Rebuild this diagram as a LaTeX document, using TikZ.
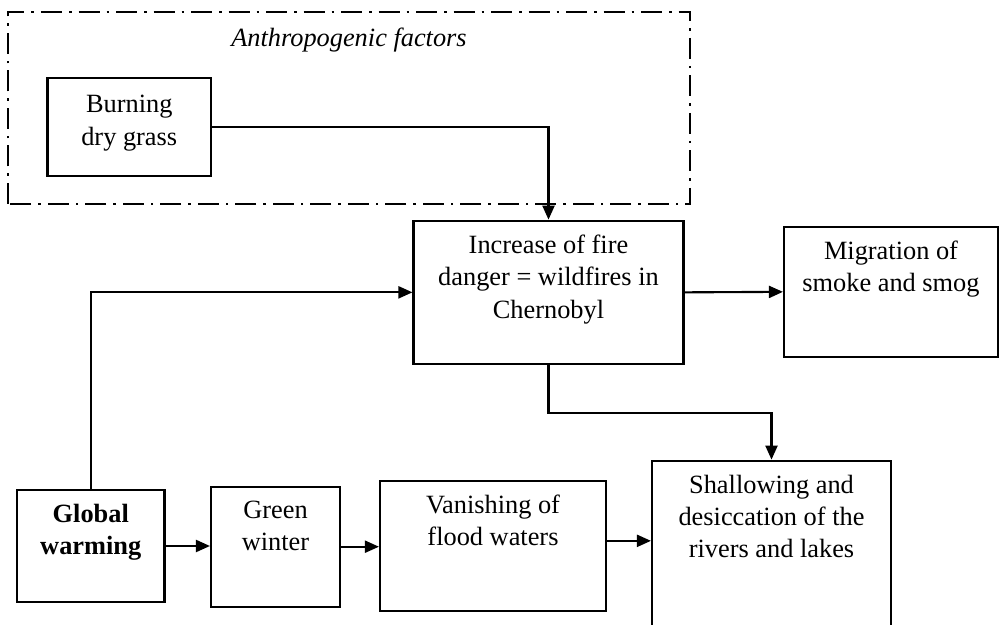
\documentclass[tikz,border=0pt]{standalone}
\usepackage{fontspec}
\setmainfont{Liberation Serif}
\usepackage{tikz}
\usetikzlibrary{arrows.meta,positioning,calc}

\begin{document}
\begin{tikzpicture}[
  box/.style={draw, line width=1.2pt, inner sep=0pt},
  txt/.style={align=center, inner sep=0pt, anchor=north,
              font=\fontsize{15}{18.4}\selectfont},
  arr/.style={-{Triangle[length=2.8mm, width=2.4mm]}, line width=1.2pt},
  frame/.style={line width=0.9pt,
                dash pattern=on 4.2mm off 1.4mm on 0.5mm off 1.4mm}]
  \useasboundingbox (0,0) rectangle (20,12.5);

  % anthropogenic group
  \draw[frame] (0.16,8.42) rectangle (13.8,12.26);
  \node[txt, anchor=center, font=\fontsize{15}{18.4}\selectfont\itshape] (anthro) at (6.98,11.7) {Anthropogenic factors};

  % boxes
  \node[box, minimum width=3.27cm, minimum height=1.96cm] (burn) at (2.585,9.96) {};
  \node[box, minimum width=5.4cm, minimum height=2.866cm] (inc) at (10.97,6.653) {};
  \node[box, minimum width=4.28cm, minimum height=2.606cm] (mig) at (17.82,6.663) {};
  \node[box, minimum width=2.95cm, minimum height=2.24cm] (glob) at (1.815,1.58) {};
  \node[box, minimum width=2.58cm, minimum height=2.4cm] (green) at (5.51,1.566) {};
  \node[box, minimum width=4.52cm, minimum height=2.606cm] (van) at (9.86,1.583) {};
  \node[box, minimum width=4.78cm, minimum height=3.586cm] (shal) at (15.43,1.493) {};

  % texts
  \node[txt] (burnt) at ([yshift=-3.6mm]burn.north) {Burning\\dry grass};
  \node[txt] (inct) at ([yshift=-3mm]inc.north) {Increase of fire\\danger = wildfires in\\Chernobyl};
  \node[txt] (migt) at ([yshift=-3mm]mig.north) {Migration of\\smoke and smog};
  \node[txt, font=\fontsize{15}{18.4}\selectfont\bfseries] (globt) at ([yshift=-3mm]glob.north) {Global\\warming};
  \node[txt] (greent) at ([yshift=-3mm]green.north) {Green\\winter};
  \node[txt] (vant) at ([yshift=-3mm]van.north) {Vanishing of\\flood waters};
  \node[txt] (shalt) at ([yshift=-3mm]shal.north) {Shallowing and\\desiccation of the\\rivers and lakes};

  % connectors
  \draw[arr] (burn.east) -| (inc.north);
  \draw[arr] (glob.north) |- (inc.west);
  \draw[arr] (inc.east) -- (mig.west);
  \draw[arr] (inc.south) -- ++(0,-0.954) -| (shal.north);
  \draw[arr] (glob.east) -- (glob.east -| green.west);
  \draw[arr] (green.east) -- (green.east -| van.west);
  \draw[arr] ([yshift=0.1cm]van.east) -- ([yshift=0.1cm]van.east -| shal.west);
\end{tikzpicture}
\end{document}
